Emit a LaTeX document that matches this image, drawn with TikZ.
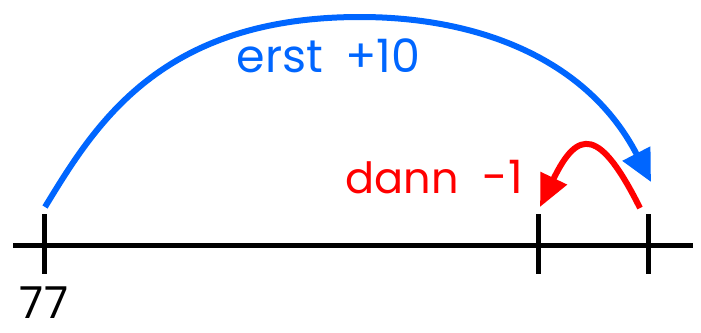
\documentclass[tikz,border=0pt]{standalone}
\usepackage{fontspec}
\setmainfont{Poppins}
\usetikzlibrary{calc,arrows.meta}
\definecolor{erstblue}{HTML}{0066FF}
\definecolor{dannred}{HTML}{FF0000}

\begin{document}
\begin{tikzpicture}[x=0.5pt,y=-0.5pt,
  numline/.style={line width=2.5pt},
  hop/.style={line width=3pt},
  lbl/.style={font=\fontsize{23}{27}\selectfont, anchor=base, inner sep=0pt}]
  \useasboundingbox (0,0) rectangle (701,332);

  % Number line
  \coordinate (left) at (13,245);
  \coordinate (right) at (693,245);
  \coordinate (t77) at (44,245);
  \coordinate (t86) at (538,245);
  \coordinate (t87) at (648,245);
  \draw[numline] (left) -- (right);

  % Ticks
  \draw[numline] ($(t77)+(0,-31)$) -- ($(t77)+(0,29)$);
  \draw[numline] ($(t86)+(0,-31)$) -- ($(t86)+(0,29)$);
  \draw[numline] ($(t87)+(0,-31)$) -- ($(t87)+(0,29)$);
  \node[lbl, font=\fontsize{22}{26}\selectfont] (n77) at (44,318) {77};

  % First jump: +10
  \coordinate (erstStart) at ($(t77)+(1,-38)$);
  \coordinate (erstTop) at (360,17);
  \coordinate (erstEnd) at ($(t87)+(3,-63)$);
  \draw[erstblue, hop, -{Triangle[length=16pt,width=15pt]}] (erstStart)
    .. controls (95,125) and (160,17) .. (erstTop)
    .. controls (480,17) and (588,60) .. (erstEnd);
  \node[lbl, erstblue] (erst) at (280,72) {erst};
  \node[lbl, erstblue] (plus10) at (383,72) {+10};

  % Then: -1
  \coordinate (dannStart) at ($(t87)+(-8,-37)$);
  \coordinate (dannEnd) at ($(t86)+(2,-38)$);
  \draw[dannred, hop, -{Triangle[length=16pt,width=14pt]}] (dannStart)
    .. controls (600,128) and (578,128) .. (dannEnd);
  \node[lbl, dannred, font=\fontsize{21.5}{26}\selectfont] (dann) at (402,193) {dann};
  \node[lbl, dannred] (minus1) at (503,193) {-1};
\end{tikzpicture}
\end{document}
